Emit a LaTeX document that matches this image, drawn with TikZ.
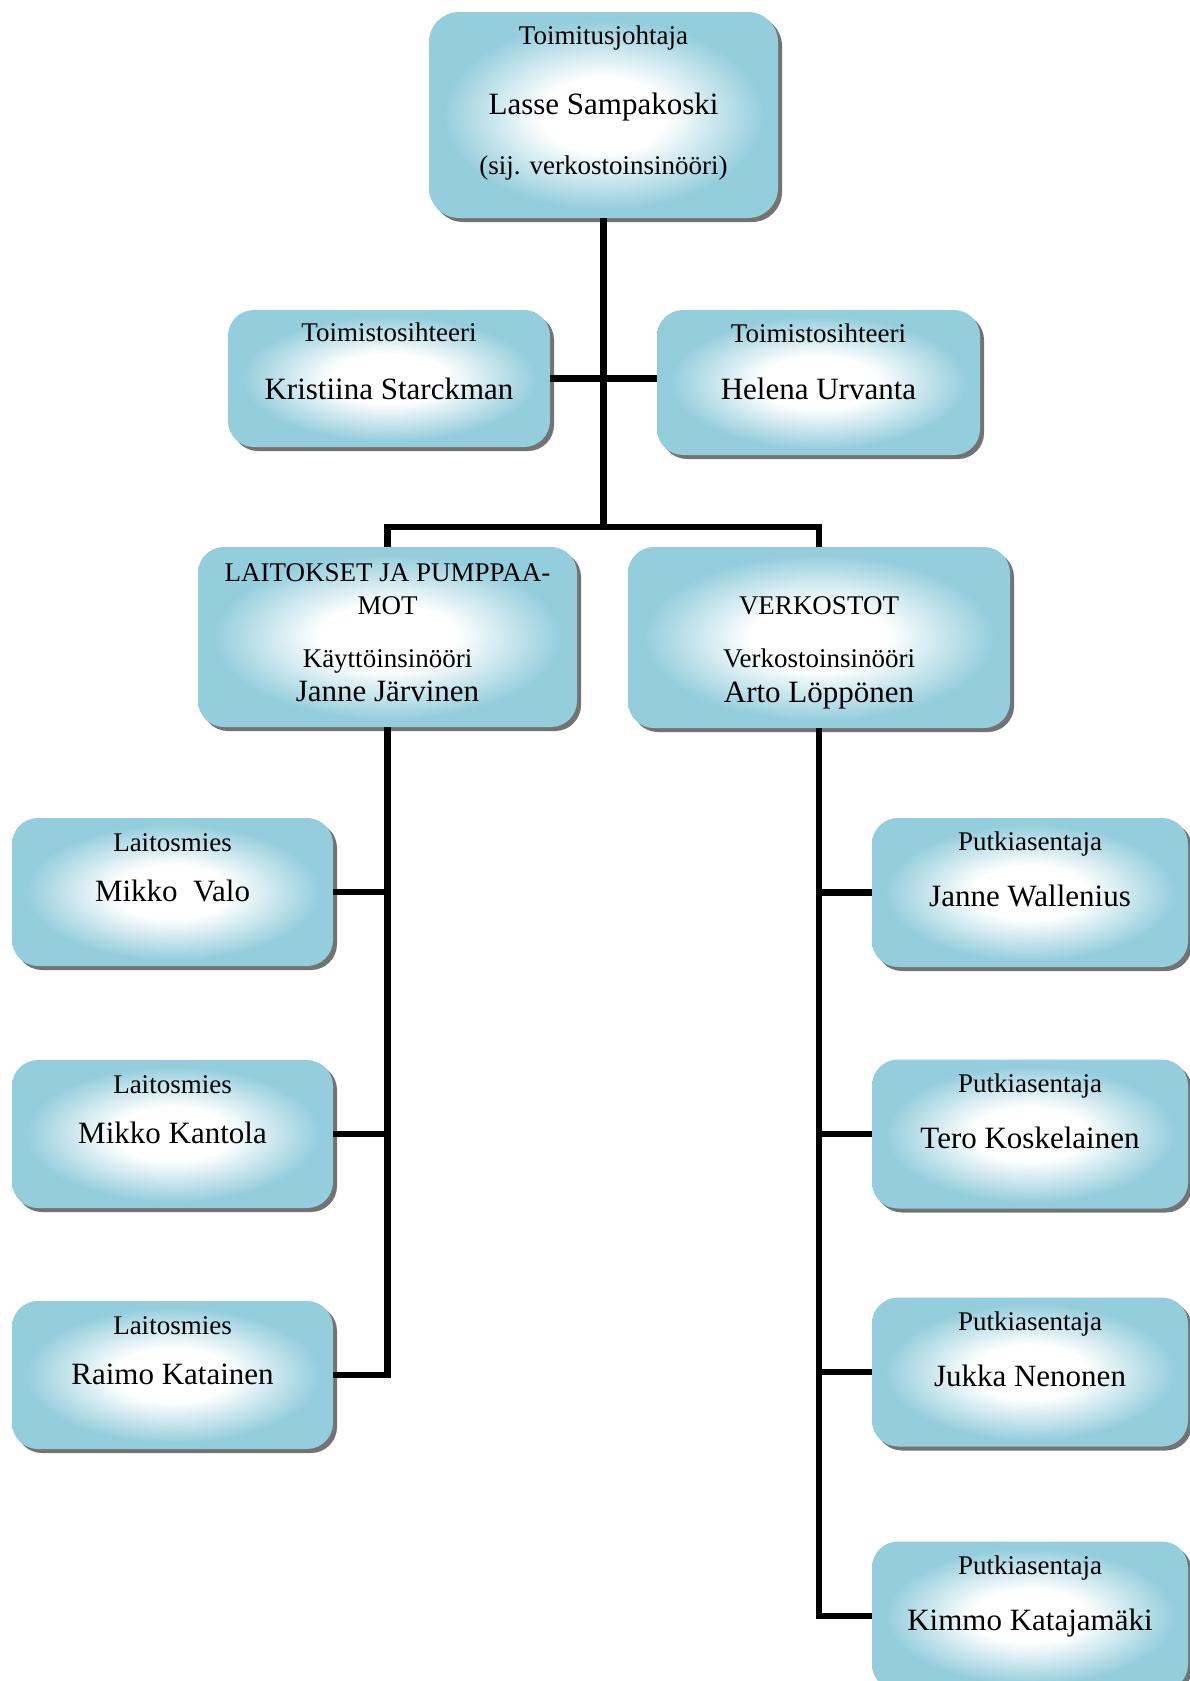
\documentclass[tikz,border=0pt]{standalone}
\usepackage{fontspec}
\setmainfont{Liberation Serif}
\usetikzlibrary{shadows}
\definecolor{boxblue}{RGB}{148,205,220}
\pgfdeclareradialshading{glow}{\pgfpoint{0bp}{0bp}}{color(0bp)=(white); color(9bp)=(white); color(23bp)=(boxblue); color(25bp)=(boxblue); color(50bp)=(boxblue)}
\tikzset{
  unit/.style={rectangle, rounded corners=13pt, shading=glow, inner sep=0pt,
    drop shadow={shadow xshift=2pt, shadow yshift=-2pt, fill=black!55, opacity=1}},
  role/.style={anchor=base, inner sep=0pt, font=\fontsize{13.5}{15}\selectfont},
  pname/.style={anchor=base, inner sep=0pt, font=\fontsize{15.5}{17}\selectfont},
  link/.style={line width=3.3pt}
}
\begin{document}
\begin{tikzpicture}[x=0.5pt,y=-0.5pt]
 \useasboundingbox (0,0) rectangle (1189,1681);
 % boxes
 \node[unit, minimum width=174.5pt, minimum height=103pt, rounded corners=15pt] (ceo) at (603.5,115) {};
 \node[unit, minimum width=161pt, minimum height=68.5pt] (sec1) at (389,378.5) {};
 \node[unit, minimum width=161.5pt, minimum height=72.5pt] (sec2) at (818.5,382.5) {};
 \node[unit, minimum width=189.5pt, minimum height=90pt] (plant) at (387.5,637) {};
 \node[unit, minimum width=191pt, minimum height=90.5pt] (net) at (819,637.5) {};
 \node[unit, minimum width=160.5pt, minimum height=74pt] (lm1) at (172.5,892) {};
 \node[unit, minimum width=160.5pt, minimum height=74pt] (lm2) at (172.5,1134) {};
 \node[unit, minimum width=160.5pt, minimum height=74pt] (lm3) at (172.5,1375) {};
 \node[unit, minimum width=158pt, minimum height=74.5pt] (pa1) at (1030,892.5) {};
 \node[unit, minimum width=158pt, minimum height=74.5pt] (pa2) at (1030,1134) {};
 \node[unit, minimum width=158pt, minimum height=74.5pt] (pa3) at (1030,1372) {};
 \node[unit, minimum width=158pt, minimum height=74.5pt] (pa4) at (1030,1616) {};
 % texts
 \node[role] (ceo-role) at ([yshift=-16.5pt]ceo.north) {Toimitusjohtaja};
 \node[pname] (ceo-name) at ([yshift=-51.5pt]ceo.north) {Lasse Sampakoski};
 \node[role] (ceo-note) at ([yshift=-81.5pt]ceo.north) {(sij. verkostoinsinööri)};
 \node[role] (sec1-role) at ([yshift=-16pt]sec1.north) {Toimistosihteeri};
 \node[pname] (sec1-name) at ([yshift=-45pt]sec1.north) {Kristiina Starckman};
 \node[role] (sec2-role) at ([yshift=-16.5pt]sec2.north) {Toimistosihteeri};
 \node[pname] (sec2-name) at ([yshift=-45pt]sec2.north) {Helena Urvanta};
 \node[role] (plant-head) at ([yshift=-17.5pt]plant.north) {LAITOKSET JA PUMPPAA-};
 \node[role] (plant-head2) at ([yshift=-34pt]plant.north) {MOT};
 \node[role] (plant-role) at ([yshift=-60.5pt]plant.north) {Käyttöinsinööri};
 \node[pname] (plant-name) at ([yshift=-77.5pt]plant.north) {Janne Järvinen};
 \node[role] (net-head) at ([yshift=-34pt]net.north) {VERKOSTOT};
 \node[role] (net-role) at ([yshift=-60.5pt]net.north) {Verkostoinsinööri};
 \node[pname] (net-name) at ([yshift=-78pt]net.north) {Arto Löppönen};
 \node[role] (lm1-role) at ([yshift=-17pt]lm1.north) {Laitosmies};
 \node[pname] (lm1-name) at ([yshift=-42pt]lm1.north) {Mikko\ \ Valo};
 \node[role] (lm2-role) at ([yshift=-17pt]lm2.north) {Laitosmies};
 \node[pname] (lm2-name) at ([yshift=-42pt]lm2.north) {Mikko Kantola};
 \node[role] (lm3-role) at ([yshift=-17pt]lm3.north) {Laitosmies};
 \node[pname] (lm3-name) at ([yshift=-42pt]lm3.north) {Raimo Katainen};
 \node[role] (pa1-role) at ([yshift=-16.5pt]pa1.north) {Putkiasentaja};
 \node[pname] (pa1-name) at ([yshift=-44.5pt]pa1.north) {Janne Wallenius};
 \node[role] (pa2-role) at ([yshift=-16.5pt]pa2.north) {Putkiasentaja};
 \node[pname] (pa2-name) at ([yshift=-44.5pt]pa2.north) {Tero Koskelainen};
 \node[role] (pa3-role) at ([yshift=-16.5pt]pa3.north) {Putkiasentaja};
 \node[pname] (pa3-name) at ([yshift=-44.5pt]pa3.north) {Jukka Nenonen};
 \node[role] (pa4-role) at ([yshift=-16.5pt]pa4.north) {Putkiasentaja};
 \node[pname] (pa4-name) at ([yshift=-44.5pt]pa4.north) {Kimmo Katajamäki};
 % connectors
 \coordinate (bus) at (604,527);
 \draw[link] (ceo.south) -- (ceo.south |- bus);
 \draw[link] (sec1.east) -- (sec1.east -| sec2.west);
 \draw[link] (plant.north) |- (bus) -| (net.north);
 \draw[link] (plant.south) |- (lm3.east);
 \draw[link] (lm1.east) -- (lm1.east -| plant.south);
 \draw[link] (lm2.east) -- (lm2.east -| plant.south);
 \draw[link] (net.south) |- (pa4.west);
 \draw[link] (pa1.west) -- (pa1.west -| net.south);
 \draw[link] (pa2.west) -- (pa2.west -| net.south);
 \draw[link] (pa3.west) -- (pa3.west -| net.south);
\end{tikzpicture}
\end{document}
